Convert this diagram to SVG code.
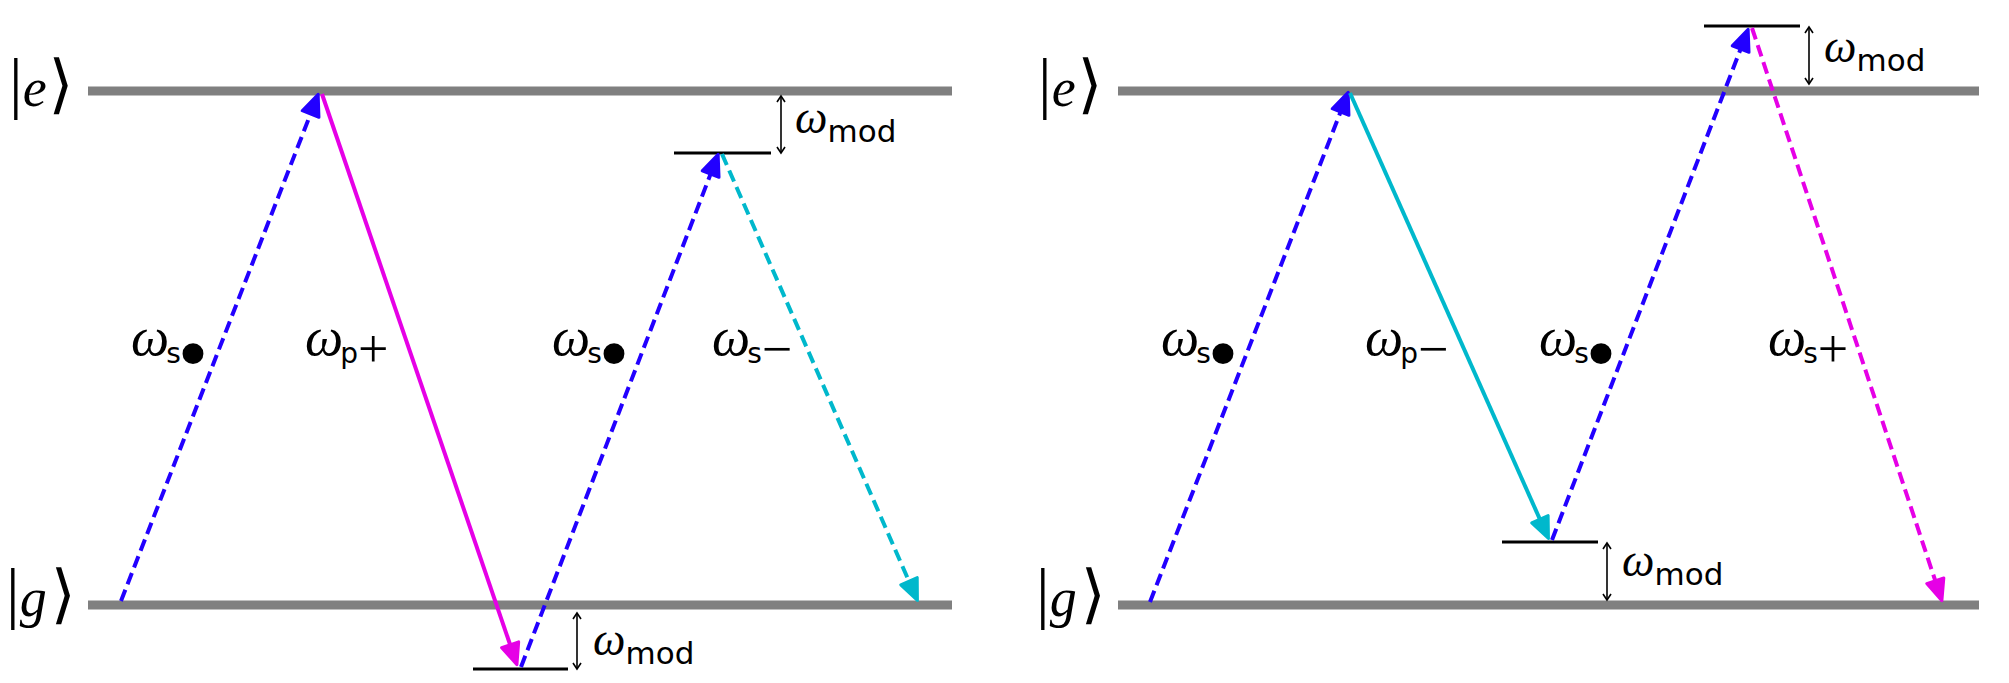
<svg xmlns="http://www.w3.org/2000/svg" width="2009" height="683" viewBox="0 0 2009 683">
<style>
.level{stroke:#808080;stroke-width:9;fill:none}
.sub{stroke:#000;stroke-width:3;fill:none}
.dbl{stroke:#000;stroke-width:1.6;fill:none;marker-start:url(#chev);marker-end:url(#chev)}
.tr{stroke-width:4;fill:none;stroke-linecap:butt}
.dash{stroke-dasharray:12 6}
.blue{stroke:#2200ff;marker-end:url(#ahB)}
.mag{stroke:#e600e6;marker-end:url(#ahM)}
.cyan{stroke:#00b8cc;marker-end:url(#ahC)}
text{font-family:"Liberation Serif",serif;fill:#000}
.om{font-style:italic;font-size:54px}
.omm{font-style:italic;font-size:46px}
.ss{font-family:"DejaVu Sans",sans-serif;font-size:28px}
.sm{font-family:"DejaVu Sans",sans-serif;font-size:31px}
.pm{font-size:54px}
.bul{font-family:"DejaVu Sans",sans-serif;font-size:72px}
.bar{font-size:68px}
.kv{font-style:italic;font-size:54px}
.br{font-family:"DejaVu Sans",sans-serif;font-size:64px}
</style>
<defs>
<marker id="ahB" markerUnits="userSpaceOnUse" viewBox="-2 -12 26 24" markerWidth="26" markerHeight="24" refX="15" refY="0" orient="auto"><path d="M0,-9 L21,0 L0,9 Z" fill="#2200ff" stroke="#2200ff" stroke-width="3" stroke-linejoin="round"/></marker>
<marker id="ahM" markerUnits="userSpaceOnUse" viewBox="-2 -12 26 24" markerWidth="26" markerHeight="24" refX="15" refY="0" orient="auto"><path d="M0,-9 L21,0 L0,9 Z" fill="#e600e6" stroke="#e600e6" stroke-width="3" stroke-linejoin="round"/></marker>
<marker id="ahC" markerUnits="userSpaceOnUse" viewBox="-2 -12 26 24" markerWidth="26" markerHeight="24" refX="15" refY="0" orient="auto"><path d="M0,-9 L21,0 L0,9 Z" fill="#00b8cc" stroke="#00b8cc" stroke-width="3" stroke-linejoin="round"/></marker>
<marker id="chev" markerUnits="userSpaceOnUse" viewBox="-8 -6 10 12" markerWidth="10" markerHeight="12" refX="0" refY="0" orient="auto-start-reverse"><path d="M-6,-4 L0,0 L-6,4" fill="none" stroke="#000" stroke-width="1.6"/></marker>
</defs>

<g id="left-panel">
<g id="L-e"><line class="level" x1="88" y1="91" x2="952" y2="91"/><text x="9" y="106"><tspan class="bar">|</tspan><tspan class="kv">e</tspan><tspan class="br" dx="2">⟩</tspan></text></g>
<g id="L-g"><line class="level" x1="88" y1="605" x2="952" y2="605"/><text x="6" y="616"><tspan class="bar">|</tspan><tspan class="kv">g</tspan><tspan class="br" dx="4">⟩</tspan></text></g>
<g id="L-sub-low"><line class="sub" x1="473" y1="669" x2="568" y2="669"/><line class="dbl" x1="577" y1="613" x2="577" y2="669"/><text x="593" y="655"><tspan class="omm">ω</tspan><tspan class="sm" dy="9">mod</tspan></text></g>
<g id="L-sub-high"><line class="sub" x1="674" y1="153" x2="771" y2="153"/><line class="dbl" x1="781" y1="96" x2="781" y2="153"/><text x="795" y="133"><tspan class="omm">ω</tspan><tspan class="sm" dy="9">mod</tspan></text></g>
</g>

<g id="right-panel">
<g id="R-e"><line class="level" x1="1118" y1="91" x2="1979" y2="91"/><text x="1038" y="106"><tspan class="bar">|</tspan><tspan class="kv">e</tspan><tspan class="br" dx="2">⟩</tspan></text></g>
<g id="R-g"><line class="level" x1="1118" y1="605" x2="1979" y2="605"/><text x="1036" y="616"><tspan class="bar">|</tspan><tspan class="kv">g</tspan><tspan class="br" dx="4">⟩</tspan></text></g>
<g id="R-sub-low"><line class="sub" x1="1502" y1="542" x2="1598" y2="542"/><line class="dbl" x1="1607" y1="543" x2="1607" y2="600"/><text x="1622" y="576"><tspan class="omm">ω</tspan><tspan class="sm" dy="9">mod</tspan></text></g>
<g id="R-sub-high"><line class="sub" x1="1704" y1="26" x2="1800" y2="26"/><line class="dbl" x1="1809" y1="27" x2="1809" y2="84"/><text x="1824" y="62"><tspan class="omm">ω</tspan><tspan class="sm" dy="9">mod</tspan></text></g>
</g>

<g id="connectors">
<line class="tr dash blue" x1="121" y1="601" x2="316" y2="100"/>
<line class="tr mag" x1="322" y1="94" x2="515" y2="659"/>
<line class="tr dash blue" x1="521" y1="667" x2="716" y2="160"/>
<line class="tr dash cyan" x1="722" y1="154" x2="915" y2="595"/>
<line class="tr dash blue" x1="1150" y1="602" x2="1346" y2="98"/>
<line class="tr cyan" x1="1350" y1="93" x2="1546" y2="533"/>
<line class="tr dash blue" x1="1552" y1="540" x2="1746" y2="35"/>
<line class="tr dash mag" x1="1752" y1="28" x2="1940" y2="595"/>
</g>

<g id="labels">
<text x="131" y="355"><tspan class="om">ω</tspan><tspan class="ss" dx="-3" dy="8">s</tspan><tspan class="bul" dx="-9" dy="17">•</tspan></text>
<text x="305" y="355"><tspan class="om">ω</tspan><tspan class="ss" dx="-3" dy="8">p</tspan><tspan class="pm" dy="4">+</tspan></text>
<text x="552" y="355"><tspan class="om">ω</tspan><tspan class="ss" dx="-3" dy="8">s</tspan><tspan class="bul" dx="-9" dy="17">•</tspan></text>
<text x="712" y="355"><tspan class="om">ω</tspan><tspan class="ss" dx="-3" dy="8">s</tspan><tspan class="pm" dy="4">−</tspan></text>
<text x="1161" y="355"><tspan class="om">ω</tspan><tspan class="ss" dx="-3" dy="8">s</tspan><tspan class="bul" dx="-9" dy="17">•</tspan></text>
<text x="1365" y="355"><tspan class="om">ω</tspan><tspan class="ss" dx="-3" dy="8">p</tspan><tspan class="pm" dy="4">−</tspan></text>
<text x="1539" y="355"><tspan class="om">ω</tspan><tspan class="ss" dx="-3" dy="8">s</tspan><tspan class="bul" dx="-9" dy="17">•</tspan></text>
<text x="1768" y="355"><tspan class="om">ω</tspan><tspan class="ss" dx="-3" dy="8">s</tspan><tspan class="pm" dy="4">+</tspan></text>
</g>
</svg>
